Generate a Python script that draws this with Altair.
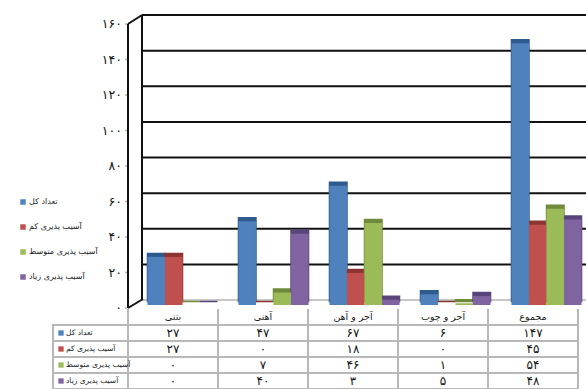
import altair as alt
import pandas as pd

# ---------------- data ----------------
categories = ["بتنی", "آهنی", "آجر و آهن", "آجر و چوب", "مجموع"]
series = ["تعداد کل", "آسیب پذیری کم", "آسیب پذیری متوسط", "آسیب پذیری زیاد"]
total = [27, 47, 67, 6, 147]
low = [27, 0, 18, 0, 45]
medium = [0, 7, 46, 1, 54]
high = [0, 40, 3, 5, 48]
y_ticks = [0, 20, 40, 60, 80, 100, 120, 140, 160]

colors = ["#4F81BD", "#C0504D", "#9BBB59", "#8064A2"]
side_colors = ["#2F5A8E", "#8C3431", "#6F8A3A", "#594579"]

FA = str.maketrans("0123456789", "۰۱۲۳۴۵۶۷۸۹")


def fa(n):
    return str(n).translate(FA)


values = [total, low, medium, high]
rows = []
for s, vals in zip(series, values):
    for c, v in zip(categories, vals):
        rows.append({"cat": c, "series": s, "value": v, "label": fa(v)})
df = pd.DataFrame(rows)

ticks_df = pd.DataFrame({"v": y_ticks, "label": [fa(t) for t in y_ticks]})
series_df = pd.DataFrame({"series": series})
cat_df = pd.DataFrame({"cat": categories, "row": ["header"] * len(categories)})
one = pd.DataFrame({"a": [0]})

FONT = "DejaVu Sans"

# ---------------- scales ----------------
y_back = alt.Scale(domain=[0, 160], range=[300, 15])
y_front = alt.Scale(domain=[0, 160], range=[305, 20])
y_labels = alt.Scale(domain=[0, 160], range=[308, 24])
x_bars = alt.Scale(domain=categories, range=[137, 592], paddingInner=0.23, paddingOuter=0.115)
x_table = alt.Scale(domain=categories, range=[128, 578], paddingInner=0, paddingOuter=0)
row_domain = ["header"] + series
y_table = alt.Scale(domain=row_domain, range=[309, 389], paddingInner=0, paddingOuter=0)
y_legend = alt.Scale(type="point", domain=series, range=[202, 277], padding=0)

# ---------------- back wall ----------------
grid = alt.Chart(ticks_df).mark_rule(strokeWidth=2).encode(
    y=alt.Y("v:Q", scale=y_back, axis=None),
    x=alt.value(142),
    x2=alt.value(600),
    color=alt.condition(alt.datum.v == 0, alt.value("#c8c8c8"), alt.value("#111111")),
)
back_left = alt.Chart(one).mark_rule(color="#111111", strokeWidth=2).encode(
    x=alt.value(142), y=alt.value(15), y2=alt.value(300)
)
front_axis = alt.Chart(one).mark_rule(color="#111111", strokeWidth=2).encode(
    x=alt.value(128), y=alt.value(24), y2=alt.value(308)
)
diag_top = alt.Chart(one).mark_rule(color="#111111", strokeWidth=2).encode(
    x=alt.value(128), x2=alt.value(142), y=alt.value(24), y2=alt.value(15)
)
diag_bot = alt.Chart(one).mark_rule(color="#111111", strokeWidth=2).encode(
    x=alt.value(128), x2=alt.value(143), y=alt.value(308), y2=alt.value(299)
)

axis_labels = alt.Chart(ticks_df).mark_text(
    align="right", baseline="middle", font=FONT, fontSize=12.5, color="#111111"
).encode(y=alt.Y("v:Q", scale=y_labels, axis=None), x=alt.value(122), text="label:N")
axis_dots = alt.Chart(ticks_df).mark_square(size=3, color="#aaaaaa", opacity=1).encode(
    y=alt.Y("v:Q", scale=y_labels, axis=None), x=alt.value(126)
)

# ---------------- bars ----------------
bar_enc = dict(
    x=alt.X("cat:N", scale=x_bars, axis=None),
    xOffset=alt.XOffset("series:N", scale=alt.Scale(domain=series)),
    y=alt.Y("value:Q", scale=y_front, axis=None),
)
shadow = alt.Chart(df).mark_bar(xOffset=3.5, yOffset=-3.5, strokeWidth=1.5).encode(
    fill=alt.Fill("series:N", scale=alt.Scale(domain=series, range=side_colors), legend=None),
    stroke=alt.Stroke("series:N", scale=alt.Scale(domain=series, range=side_colors), legend=None),
    **bar_enc,
)
front = alt.Chart(df).mark_bar().encode(
    color=alt.Color("series:N", scale=alt.Scale(domain=series, range=colors), legend=None),
    **bar_enc,
)

# ---------------- legend ----------------
leg_sq = alt.Chart(series_df).mark_square(size=30, opacity=1).encode(
    y=alt.Y("series:N", scale=y_legend, axis=None),
    x=alt.value(23),
    color=alt.Color("series:N", scale=alt.Scale(domain=series, range=colors), legend=None),
)
leg_txt = alt.Chart(series_df).mark_text(
    align="left", baseline="middle", font=FONT, fontSize=8, color="#222222"
).encode(y=alt.Y("series:N", scale=y_legend, axis=None), x=alt.value(29), text="series:N")

# ---------------- table ----------------
cells = alt.Chart(df).mark_rect(fill="white", stroke="#b8b8b8", strokeWidth=2).encode(
    x=alt.X("cat:N", scale=x_table, axis=None),
    y=alt.Y("series:N", scale=y_table, axis=None),
)
label_cells = alt.Chart(series_df).mark_rect(fill="white", stroke="#b8b8b8", strokeWidth=2).encode(
    x=alt.value(53), x2=alt.value(128),
    y=alt.Y("series:N", scale=y_table, axis=None),
)
header_lines = alt.Chart(cat_df).mark_rule(color="#b8b8b8", strokeWidth=2).encode(
    x=alt.X("cat:N", scale=x_table, axis=None, bandPosition=1),
    y=alt.value(309), y2=alt.value(325),
)
header_first = alt.Chart(one).mark_rule(color="#b8b8b8", strokeWidth=2).encode(
    x=alt.value(128), y=alt.value(309), y2=alt.value(325)
)
header_txt = alt.Chart(cat_df).mark_text(
    baseline="middle", font=FONT, fontSize=9.5, color="#222222"
).encode(
    x=alt.X("cat:N", scale=x_table, axis=None),
    y=alt.Y("row:N", scale=y_table, axis=None),
    text="cat:N",
)
value_txt = alt.Chart(df).mark_text(
    baseline="middle", font=FONT, fontSize=12, color="#111111"
).encode(
    x=alt.X("cat:N", scale=x_table, axis=None),
    y=alt.Y("series:N", scale=y_table, axis=None),
    text="label:N",
)
row_sq = alt.Chart(series_df).mark_square(size=28, opacity=1).encode(
    y=alt.Y("series:N", scale=y_table, axis=None),
    x=alt.value(61),
    color=alt.Color("series:N", scale=alt.Scale(domain=series, range=colors), legend=None),
)
row_txt = alt.Chart(series_df).mark_text(
    align="left", baseline="middle", font=FONT, fontSize=7.5, color="#222222"
).encode(y=alt.Y("series:N", scale=y_table, axis=None), x=alt.value(66), text="series:N")

chart = (
    alt.layer(
        grid, back_left, shadow, front, front_axis, diag_top, diag_bot,
        axis_labels, axis_dots, leg_sq, leg_txt,
        cells, label_cells, header_lines, header_first, header_txt, value_txt, row_sq, row_txt,
    )
    .resolve_scale(x="independent", y="independent", color="independent",
                   fill="independent", stroke="independent", xOffset="independent")
    .properties(width=586, height=389, autosize=alt.AutoSizeParams(type="none"), padding=0,
                background="white")
    .configure_view(stroke=None)
)

chart.save("out.html", embed_options={"renderer": "svg", "actions": False})
